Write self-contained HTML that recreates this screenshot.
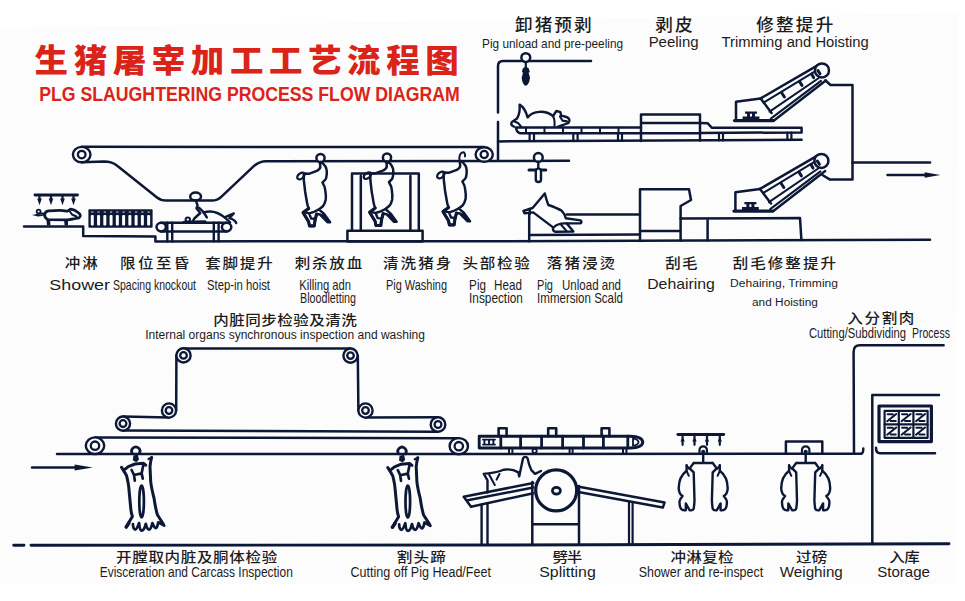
<!DOCTYPE html>
<html lang="zh"><head><meta charset="utf-8"><title>生猪屠宰加工工艺流程图</title>
<style>
html,body{margin:0;padding:0;background:#ffffff;}
svg{display:block;}
text{font-family:"Liberation Sans","Noto Sans CJK SC",sans-serif;}
text.c{font-family:"Liberation Sans","Noto Sans CJK SC",sans-serif;}
.s{fill:none;stroke:#0c1836;stroke-width:2.5;stroke-linecap:round;stroke-linejoin:round;}
.f{fill:#0c1836;stroke:none;}
.w{fill:#fcfcfc;stroke:#0c1836;stroke-width:2.5;stroke-linejoin:round;}
</style></head>
<body>
<svg width="965" height="601" viewBox="0 0 965 601">
<rect width="965" height="601" fill="#ffffff"/>
<polygon points="0,28 957,13 956,584 0,584" fill="#fcfcfc"/>
<g id="diagram">
<g id="top-line">
<path class="s" d="M81.7 146.8 L484.2 147.1"/>
<path class="s" d="M81.7 162.3 L104 161.6 C110 161.6 113.5 162.6 117.5 166 L157 197.6 C160 200 162 200.6 166 200.6 L212 200.6 C216.5 200.6 218.5 199.5 221.5 196.6 L253 166.8 C257 163 260 161.3 266 161.2 L569 160.8"/>
<ellipse class="w" cx="81.7" cy="154.6" rx="8.8" ry="7.7" style="stroke-width:2.4"/>
<circle class="s" cx="81.7" cy="154.6" r="3.8" style="stroke-width:2.3"/>
<ellipse class="w" cx="484.2" cy="154.5" rx="8.6" ry="7.3" style="stroke-width:2.4"/>
<circle class="s" cx="484.2" cy="154.5" r="3.6" style="stroke-width:2.3"/>
<path class="s" d="M35 195 L77.5 195" style="stroke-width:2.9"/>
<path class="s" d="M39.5 195 L39.5 200" style="stroke-width:2.2"/>
<path class="f" d="M37.2 198.6 L41.8 198.6 L39.5 205.3 Z"/>
<path class="s" d="M51 195 L51 200" style="stroke-width:2.2"/>
<path class="f" d="M48.7 198.6 L53.3 198.6 L51 205.3 Z"/>
<path class="s" d="M62.5 195 L62.5 200" style="stroke-width:2.2"/>
<path class="f" d="M60.2 198.6 L64.8 198.6 L62.5 205.3 Z"/>
<path class="s" d="M73.5 195 L73.5 200" style="stroke-width:2.2"/>
<path class="f" d="M71.2 198.6 L75.8 198.6 L73.5 205.3 Z"/>
<path class="s" d="M46.5 218.6 C43.6 216.5 44 211.6 48.5 210.8 L60 210.4 C64 210.3 65.5 211.3 67.5 211.2 L70.5 209.2 L74.5 210.2 L78.5 212.8 C80.6 214.2 81 216.6 79 217.8 L73 219 L68 219.8 L48 219.6 Z" style="stroke-width:2.8"/>
<path class="s" d="M69.5 211 L72 214.5 L76.5 216.5" style="stroke-width:2.0"/>
<path class="f" d="M46.3 219 L47 225.6 L50.5 225.6 L50 219.6 Z M64 219.6 L64.6 225.6 L68 225.6 L68 219.6 Z"/>
<path class="s" d="M45 214.2 L40.6 213.4" style="stroke-width:2.2"/>
<circle class="s" cx="38.6" cy="211.6" r="1.9" style="stroke-width:1.8"/>
<path class="f" d="M32 215 L38 213.8 L44.5 215.8 L38 216.4 Z"/>
<path class="s" d="M24 226.6 L83.2 226.6 L83.2 235.9 L155.4 236.6 L155.4 241.4 L500 241.2 L930 239.7"/>
<rect class="f" x="88.4" y="209.3" width="64.2" height="18.5" rx="1"/>
<rect x="90.80" y="214.9" width="3" height="10.5" rx="1" fill="#fcfcfc"/>
<rect x="91.20" y="211.5" width="2.2" height="1.1" fill="#c9ccd6"/>
<rect x="97.06" y="214.9" width="3" height="10.5" rx="1" fill="#fcfcfc"/>
<rect x="97.46" y="211.5" width="2.2" height="1.1" fill="#c9ccd6"/>
<rect x="103.32" y="214.9" width="3" height="10.5" rx="1" fill="#fcfcfc"/>
<rect x="103.72" y="211.5" width="2.2" height="1.1" fill="#c9ccd6"/>
<rect x="109.58" y="214.9" width="3" height="10.5" rx="1" fill="#fcfcfc"/>
<rect x="109.98" y="211.5" width="2.2" height="1.1" fill="#c9ccd6"/>
<rect x="115.84" y="214.9" width="3" height="10.5" rx="1" fill="#fcfcfc"/>
<rect x="116.24" y="211.5" width="2.2" height="1.1" fill="#c9ccd6"/>
<rect x="122.10" y="214.9" width="3" height="10.5" rx="1" fill="#fcfcfc"/>
<rect x="122.50" y="211.5" width="2.2" height="1.1" fill="#c9ccd6"/>
<rect x="128.36" y="214.9" width="3" height="10.5" rx="1" fill="#fcfcfc"/>
<rect x="128.76" y="211.5" width="2.2" height="1.1" fill="#c9ccd6"/>
<rect x="134.62" y="214.9" width="3" height="10.5" rx="1" fill="#fcfcfc"/>
<rect x="135.02" y="211.5" width="2.2" height="1.1" fill="#c9ccd6"/>
<rect x="140.88" y="214.9" width="3" height="10.5" rx="1" fill="#fcfcfc"/>
<rect x="141.28" y="211.5" width="2.2" height="1.1" fill="#c9ccd6"/>
<rect x="147.14" y="214.9" width="3" height="10.5" rx="1" fill="#fcfcfc"/>
<rect x="147.54" y="211.5" width="2.2" height="1.1" fill="#c9ccd6"/>
<path class="s" d="M161.2 222.8 L226.4 222.8 M161.2 231.4 L226.4 231.4"/>
<ellipse class="s" cx="161.2" cy="227.1" rx="4.7" ry="4.3"/>
<ellipse class="s" cx="226.6" cy="227.1" rx="4.7" ry="4.3"/>
<path class="s" d="M167.3 222.8 L167.3 241.3 M172.2 222.8 L172.2 241.3 M213.8 222.8 L213.8 241.3 M218.6 222.8 L218.6 241.3" style="stroke-width:2.4"/>
<ellipse class="w" cx="195.6" cy="196.4" rx="5.4" ry="3.9"/>
<path class="s" d="M195.8 200.4 L197.6 205.5 L196.4 208.2 L200.3 213 L194.3 218.5 L192.4 221.8 M199.2 207.8 L203.5 212 L206.8 217.4" style="stroke-width:2.4"/>
<path class="s" d="M203.5 212.6 C210 210.4 218 212 224.6 217.4 L233.8 213.4 L229.4 218.2 C233.5 219.5 235.5 221 236.2 223" style="stroke-width:2.4"/>
<path class="s" d="M224.6 217.4 L230.2 222.4" style="stroke-width:2.2"/>
<circle class="s" cx="187.8" cy="219.6" r="2.2" style="stroke-width:2"/>
<path class="s" d="M184 222.4 L205 221.8" style="stroke-width:3.2"/>
</g>
<g transform="translate(320.5 158)">
<circle class="w" cx="0" cy="0" r="4.1"/>
<path class="s" d="M0.6 4 C4 6.4 6.2 9.5 6.3 13.4 C6.4 16.5 6.2 18.5 5.5 20.5 C4.4 22.6 2.6 23.6 2 24.6 C3.6 27 4.6 29.6 4.8 32.4 C5.3 35.6 5.6 39 5.2 41.8 C4.6 44.6 3.8 46.4 2.4 48.2 L-1.6 51.4 L3.6 56 L9.6 64.2 L7 64.2 L-0.4 56.6 L-3.9 56 L-5.5 62.4 L-6.2 67.9 L-11 67.9 L-11.9 63.6 L-17.4 54.6 L-11.8 50.4 C-13 47.5 -13.3 46 -13.4 45 L-15.3 34 L-16.6 22.9 L-16.8 15.6 L-11.8 15.8 L-3.6 12.8 C-1.4 11.6 -0.2 10.2 -0.2 8.7 L-0.6 4"/>
<ellipse class="s" cx="-19.6" cy="18" rx="4.2" ry="2.6" transform="rotate(-38 -19.6 18)" style="stroke-width:2.3"/>
<path class="s" d="M-16.4 54.2 L-11.4 55.4 L-6.4 53.8 L-2 51.6 M-11.4 55.4 L-9.4 60.5 L-5.4 60.8" style="stroke-width:2.4"/>
<path class="f" d="M0 56.4 L7 64.2 L9.6 64.2 L3.6 56 Z"/>
<path class="s" d="M-17.4 54.6 L-11.9 63.6 L-11 67.9 L-6.2 67.9 L-5.5 62.4 L-3.9 56 M-11.8 50.4 L-17.4 54.6" style="stroke-width:3.1"/>
</g>
<g transform="translate(387 157.6)">
<circle class="w" cx="0" cy="0" r="4.1"/>
<path class="s" d="M0.6 4 C4 6.4 6.2 9.5 6.3 13.4 C6.4 16.5 6.2 18.5 5.5 20.5 C4.4 22.6 2.6 23.6 2 24.6 C3.6 27 4.6 29.6 4.8 32.4 C5.3 35.6 5.6 39 5.2 41.8 C4.6 44.6 3.8 46.4 2.4 48.2 L-1.6 51.4 L3.6 56 L9.6 64.2 L7 64.2 L-0.4 56.6 L-3.9 56 L-5.5 62.4 L-6.2 67.9 L-11 67.9 L-11.9 63.6 L-17.4 54.6 L-11.8 50.4 C-13 47.5 -13.3 46 -13.4 45 L-15.3 34 L-16.6 22.9 L-16.8 15.6 L-11.8 15.8 L-3.6 12.8 C-1.4 11.6 -0.2 10.2 -0.2 8.7 L-0.6 4"/>
<ellipse class="s" cx="-19.6" cy="18" rx="4.2" ry="2.6" transform="rotate(-38 -19.6 18)" style="stroke-width:2.3"/>
<path class="s" d="M-16.4 54.2 L-11.4 55.4 L-6.4 53.8 L-2 51.6 M-11.4 55.4 L-9.4 60.5 L-5.4 60.8" style="stroke-width:2.4"/>
<path class="f" d="M0 56.4 L7 64.2 L9.6 64.2 L3.6 56 Z"/>
<path class="s" d="M-17.4 54.6 L-11.9 63.6 L-11 67.9 L-6.2 67.9 L-5.5 62.4 L-3.9 56 M-11.8 50.4 L-17.4 54.6" style="stroke-width:3.1"/>
</g>
<g transform="translate(460.4 157)">
<path class="s" d="M-0.8 4 C-1.4 0 -0.4 -3.6 2 -4.6 C4 -5 5 -3.4 4.6 -0.6" style="stroke-width:2"/>
<path class="s" d="M0.6 4 C4 6.4 6.2 9.5 6.3 13.4 C6.4 16.5 6.2 18.5 5.5 20.5 C4.4 22.6 2.6 23.6 2 24.6 C3.6 27 4.6 29.6 4.8 32.4 C5.3 35.6 5.6 39 5.2 41.8 C4.6 44.6 3.8 46.4 2.4 48.2 L-1.6 51.4 L3.6 56 L9.6 64.2 L7 64.2 L-0.4 56.6 L-3.9 56 L-5.5 62.4 L-6.2 67.9 L-11 67.9 L-11.9 63.6 L-17.4 54.6 L-11.8 50.4 C-13 47.5 -13.3 46 -13.4 45 L-15.3 34 L-16.6 22.9 L-16.8 15.6 L-11.8 15.8 L-3.6 12.8 C-1.4 11.6 -0.2 10.2 -0.2 8.7 L-0.6 4"/>
<ellipse class="s" cx="-19.6" cy="18" rx="4.2" ry="2.6" transform="rotate(-38 -19.6 18)" style="stroke-width:2.3"/>
<path class="s" d="M-16.4 54.2 L-11.4 55.4 L-6.4 53.8 L-2 51.6 M-11.4 55.4 L-9.4 60.5 L-5.4 60.8" style="stroke-width:2.4"/>
<path class="f" d="M0 56.4 L7 64.2 L9.6 64.2 L3.6 56 Z"/>
<path class="s" d="M-17.4 54.6 L-11.9 63.6 L-11 67.9 L-6.2 67.9 L-5.5 62.4 L-3.9 56 M-11.8 50.4 L-17.4 54.6" style="stroke-width:3.1"/>
</g>
<path class="s" d="M352 230.6 L352 173.6 L418.8 173.6 L418.8 230.6 M360.8 230.6 L360.8 176 M410.4 230.6 L410.4 176"/>
<path class="s" d="M347.4 230.8 L422.6 230.8 L422.6 241.4 L347.4 241.4 Z"/>
<path class="s" d="M498 160.8 L498 122 M498 112.6 L498 66 C498 62.4 499.6 60.9 503 60.9 L591 60.9"/>
<path class="s" d="M498 141.4 L801.6 139.8"/>
<circle class="w" cx="525.8" cy="57.6" r="4.4"/>
<path class="s" d="M525.8 62 L525.8 68" style="stroke-width:2.2"/>
<path class="f" d="M522.8 68.6 C524.4 66.4 527.2 66.4 528.8 68.6 L529.8 72 L528.6 72.8 L530 77.5 C529.6 82.5 527.8 85.4 525.8 85.8 C523.8 85.4 522 82.5 521.7 77.5 L523 72.8 L521.9 72 Z"/>
<circle class="w" cx="538.3" cy="157.4" r="4.4"/>
<path class="s" d="M538.3 161.8 L538.3 169" style="stroke-width:2.4"/>
<path class="s" d="M529 170 L545.8 170" style="stroke-width:3.0"/>
<rect class="w" x="535.8" y="168.6" width="5.2" height="13.4" rx="2.6" style="stroke-width:2.4"/>
<path class="s" d="M514 126.6 C510.6 125.6 510.4 122.4 513.4 121 L517 118.6 C519.4 114.5 520 109.5 519.6 104.6 C523 106.6 526 111.4 527.6 117.4 C533 110.6 545 109.8 553 116 L556.4 111 L560.4 112.2 L561.2 115.6 L566.4 117 C569.4 118 570.4 120.6 568.6 122.8 L563 125 L557.6 126.8" style="stroke-width:2.4"/>
<path class="s" d="M553 116 C554.6 119 554.8 123 554.4 126.6 M560 116.4 L562.4 120.6 L567 121.4 M513.4 121 L518 123 L521 126.4" style="stroke-width:2.1"/>
<path class="s" d="M516 127.6 L641 127.6 M520 133.2 L641 133.2 M516 127.6 C516.4 131 517.6 132.6 520 133.2"/>
<path class="s" d="M526 127.6 L526 133.2" style="stroke-width:2.0"/>
<path class="s" d="M544.5 127.6 L544.5 133.2" style="stroke-width:2.0"/>
<path class="s" d="M563 127.6 L563 133.2" style="stroke-width:2.0"/>
<path class="s" d="M581.5 127.6 L581.5 133.2" style="stroke-width:2.0"/>
<path class="s" d="M600 127.6 L600 133.2" style="stroke-width:2.0"/>
<path class="s" d="M618.5 127.6 L618.5 133.2" style="stroke-width:2.0"/>
<path class="s" d="M529.6 133.2 L529.6 141 M534 133.2 L534 141 M573.3 133.2 L573.3 141 M577.6 133.2 L577.6 141 M618 133.2 L618 140.8 M622 133.2 L622 140.8" style="stroke-width:2.2"/>
<path class="s" d="M641 141 L641 114.6 L700 114.6 L700 140.4 M641 123 L700 123 M641 133.2 L700 133"/>
<path class="s" d="M700 123 L707.5 123.2 L712 127.8 L801.6 127.8 L801.6 132.4 M700 133 L801.6 132.4"/>
<path class="s" d="M719 133 L719 140.4 M723 133 L723 140.4 M787.4 132.6 L787.4 139.8 M791.4 132.6 L791.4 139.8" style="stroke-width:2.2"/>
<g transform="translate(0 0)">
<path class="s" d="M760.6 98.4 L736 101.8 L736 119.6"/>
<path class="s" d="M734.6 120.6 L773.4 120.6" style="stroke-width:3.4"/>
<path class="s" d="M760.6 98.4 L771.6 113"/>
<path class="s" d="M760.6 98.4 L818 65.2" style="stroke-width:2.5"/>
<path class="s" d="M763.6 102.6 L815.4 71.2" style="stroke-width:2.1"/>
<path class="s" d="M769.6 111.6 L818.8 78" style="stroke-width:2.1"/>
<path class="s" d="M770.8 118.6 L821 80.8" style="stroke-width:2.1"/>
<path class="s" d="M774 120.4 L825.8 80.6" style="stroke-width:2.5"/>
<circle class="w" cx="822" cy="70.4" r="7"/>
<path class="s" d="M781.8 93 L784.4 97 M799.6 81.6 L802 85.4 M811.6 74 L813.6 77.6 M818 70.6 L820 73.8" style="stroke-width:3"/>
<path class="f" d="M745 111.6 L757 111.6 L757 113.8 L745 113.8 Z M747 113.8 L750 113.8 L750 117 L747 117 Z M752 113.8 L755 113.8 L755 117 L752 117 Z M742.6 116.6 L759.4 116.6 L759.4 119.8 L742.6 119.8 Z"/>
</g>
<g transform="translate(-0.6 90.5)">
<path class="s" d="M760.6 98.4 L736 101.8 L736 119.6"/>
<path class="s" d="M734.6 120.6 L773.4 120.6" style="stroke-width:3.4"/>
<path class="s" d="M760.6 98.4 L771.6 113"/>
<path class="s" d="M760.6 98.4 L818 65.2" style="stroke-width:2.5"/>
<path class="s" d="M763.6 102.6 L815.4 71.2" style="stroke-width:2.1"/>
<path class="s" d="M769.6 111.6 L818.8 78" style="stroke-width:2.1"/>
<path class="s" d="M770.8 118.6 L821 80.8" style="stroke-width:2.1"/>
<path class="s" d="M774 120.4 L825.8 80.6" style="stroke-width:2.5"/>
<circle class="w" cx="822" cy="70.4" r="7"/>
<path class="s" d="M781.8 93 L784.4 97 M799.6 81.6 L802 85.4 M811.6 74 L813.6 77.6 M818 70.6 L820 73.8" style="stroke-width:3"/>
<path class="f" d="M745 111.6 L757 111.6 L757 113.8 L745 113.8 Z M747 113.8 L750 113.8 L750 117 L747 117 Z M752 113.8 L755 113.8 L755 117 L752 117 Z M742.6 116.6 L759.4 116.6 L759.4 119.8 L742.6 119.8 Z"/>
</g>
<path class="s" d="M825.3 80.3 L830.5 85 L852.5 85 L852.5 179.6 L830 179.6 L822.4 175"/>
<path class="s" d="M852.5 162.6 L930 162.6"/>
<path class="s" d="M887.5 175 L927 175"/>
<path class="f" d="M924.6 172.2 L940.4 175 L924.6 177.8 Z"/>
<path class="s" d="M529.2 213 L529.2 241.2 M566.8 214.4 L640 214.4 M529.2 235 L640 234.6"/>
<path class="s" d="M544.8 193.4 L532.6 208 L523.4 211 L524.6 213.4 L533.2 212.4 L553.4 227.6 M544.8 193.4 C546 198 547 202 548.4 205 C553 206.6 558 208.4 561.8 210.8 C564 213 565.2 215.6 565.8 218.2 L580.6 220.4 C582 221.4 581.6 223 580 223.4 L566.8 223.4 L573.4 231.6 L555 231.8 C552.6 230.6 552.6 228.6 553.4 227.6" style="stroke-width:2.4"/>
<path class="s" d="M553.4 227.6 C556 224.6 561 223 566.8 223.4 M561 224.6 L566.5 231" style="stroke-width:2.1"/>
<path class="s" d="M529.8 209 L529.8 214" style="stroke-width:2.4"/>
<path class="s" d="M640 241 L640 189.2 L689 189.2 L691 200 L680.6 206 L680.6 240.8 M640 231 L680.6 231"/>
<path class="s" d="M680.6 218.6 L800 218 L801.4 239.9 M707.6 218.6 L707.6 240.6"/>
<path class="s" d="M183.5 348.4 L350.5 348.6 M176.4 355 L176.2 410.5 M357.8 355.5 L358.4 410.5 M169 417.6 L123 416.6 M123 430.6 L438 431.8 M365.5 417.6 L438 417.3"/>
<ellipse class="w" cx="183.5" cy="355.4" rx="7.1" ry="7.1" style="stroke-width:2.4"/>
<circle class="s" cx="183.5" cy="355.4" r="3.3" style="stroke-width:2.3"/>
<ellipse class="w" cx="350.5" cy="355.6" rx="7.1" ry="7.1" style="stroke-width:2.4"/>
<circle class="s" cx="350.5" cy="355.6" r="3.3" style="stroke-width:2.3"/>
<ellipse class="w" cx="169" cy="410.5" rx="7.1" ry="7.1" style="stroke-width:2.4"/>
<circle class="s" cx="169" cy="410.5" r="3.3" style="stroke-width:2.3"/>
<ellipse class="w" cx="365.5" cy="410.5" rx="7.1" ry="7.1" style="stroke-width:2.4"/>
<circle class="s" cx="365.5" cy="410.5" r="3.3" style="stroke-width:2.3"/>
<ellipse class="w" cx="123" cy="423.6" rx="7.1" ry="7.1" style="stroke-width:2.4"/>
<circle class="s" cx="123" cy="423.6" r="3.4" style="stroke-width:2.3"/>
<ellipse class="w" cx="438" cy="424.5" rx="7.3" ry="7.3" style="stroke-width:2.4"/>
<circle class="s" cx="438" cy="424.5" r="3.4" style="stroke-width:2.3"/>
<path class="s" d="M95 437.4 L458.8 438.2"/>
<path class="s" d="M57 454 L861 453.8"/>
<path class="s" d="M861 453.8 C863 453.6 863.3 452 863.3 448.6"/>
<ellipse class="w" cx="95" cy="445.7" rx="9.2" ry="8.3" style="stroke-width:2.4"/>
<circle class="s" cx="95" cy="445.7" r="4.2" style="stroke-width:2.3"/>
<ellipse class="w" cx="458.8" cy="446.2" rx="9.2" ry="8.1" style="stroke-width:2.4"/>
<circle class="s" cx="458.8" cy="446.2" r="4.2" style="stroke-width:2.3"/>
<path class="s" d="M32 467.5 L78 467.5"/>
<path class="f" d="M74.6 464.5 L92.8 467.5 L74.6 470.5 Z"/>
<g transform="translate(135.8 451.6)">
<path class="s" d="M-3.45 2 A4.2 4.2 0 1 1 3.45 2" style="stroke-width:2.7"/>
<path class="f" d="M-2.4 4 L2 3 L3.2 8 L0.6 10.6 L-3 8.6 Z"/>
<path class="s" d="M-14.2 15.8 L-11 21 L-9.2 24.2 C-8 29 -7 34 -6.8 38.4 L-5.2 54.9 C-5 59 -4.4 62 -3.4 64.9 L-7.6 72" style="stroke-width:3.0"/>
<path class="s" d="M-10.6 17.6 L-7.5 15 L-0.8 12.4 L7.5 11.7 L10 13.6" style="stroke-width:3.0"/>
<path class="s" d="M15.8 5.9 C15 9 14.4 12 14.2 15 L14.9 30 C15.6 36 16.8 41 18.2 46.4 C19 52 20 58 21.6 63.2 L27.6 72.6" style="stroke-width:3.0"/>
<path class="s" d="M-4.2 18.4 L-1.8 23.4 L5.8 21.8 L7.5 13.4 M-1.8 23.4 L-1 29 M5.8 21.8 L7 27" style="stroke-width:2.7"/>
<path class="s" d="M12.8 7.4 L15.8 5.9" style="stroke-width:2.4"/>
<path class="s" d="M-9.6 75.4 L-7 71.6" style="stroke-width:3.6"/>
<path class="s" d="M-2.8 72.6 C-3 75.6 -1.8 78 -0.6 78 C1 78 2.2 74.4 3.3 71.5 C3.6 75 4.4 79 6 79 C8 79 9.2 75.4 10 72.3 C10.6 75 11.8 78 13.3 78 C14.6 78 15.8 74.6 16.6 71.5 C17.4 73.6 18.8 76.4 20 76.5 C21.4 76.4 22 73 22.5 70.7 L28.4 74" style="stroke-width:2.8"/>
<ellipse class="s" cx="5.8" cy="49.9" rx="2.3" ry="16" style="stroke-width:2.7"/>
</g>
<g transform="translate(402 451.8)">
<path class="s" d="M-3.45 2 A4.2 4.2 0 1 1 3.45 2" style="stroke-width:2.7"/>
<path class="f" d="M-2.4 4 L2 3 L3.2 8 L0.6 10.6 L-3 8.6 Z"/>
<path class="s" d="M-14.2 15.8 L-11 21 L-9.2 24.2 C-8 29 -7 34 -6.8 38.4 L-5.2 54.9 C-5 59 -4.4 62 -3.4 64.9 L-7.6 72" style="stroke-width:3.0"/>
<path class="s" d="M-10.6 17.6 L-7.5 15 L-0.8 12.4 L7.5 11.7 L10 13.6" style="stroke-width:3.0"/>
<path class="s" d="M15.8 5.9 C15 9 14.4 12 14.2 15 L14.9 30 C15.6 36 16.8 41 18.2 46.4 C19 52 20 58 21.6 63.2 L27.6 72.6" style="stroke-width:3.0"/>
<path class="s" d="M-4.2 18.4 L-1.8 23.4 L5.8 21.8 L7.5 13.4 M-1.8 23.4 L-1 29 M5.8 21.8 L7 27" style="stroke-width:2.7"/>
<path class="s" d="M12.8 7.4 L15.8 5.9" style="stroke-width:2.4"/>
<path class="s" d="M-9.6 75.4 L-7 71.6" style="stroke-width:3.6"/>
<path class="s" d="M-2.8 72.6 C-3 75.6 -1.8 78 -0.6 78 C1 78 2.2 74.4 3.3 71.5 C3.6 75 4.4 79 6 79 C8 79 9.2 75.4 10 72.3 C10.6 75 11.8 78 13.3 78 C14.6 78 15.8 74.6 16.6 71.5 C17.4 73.6 18.8 76.4 20 76.5 C21.4 76.4 22 73 22.5 70.7 L28.4 74" style="stroke-width:2.8"/>
<ellipse class="s" cx="5.8" cy="49.9" rx="2.3" ry="16" style="stroke-width:2.7"/>
</g>
<path class="s" d="M479.2 436.2 L630 436.2 C638 436.4 642.6 438.6 642.8 442.1 C642.6 445.6 638 447.8 630 448 L479.2 448 Z" style="stroke-width:2.9"/>
<path class="s" d="M500.8 436.2 L500.8 448" style="stroke-width:2.8"/>
<path class="s" d="M520.6 436.2 L520.6 448" style="stroke-width:2.8"/>
<path class="s" d="M541.6 436.2 L541.6 448" style="stroke-width:2.8"/>
<path class="s" d="M562.6 436.2 L562.6 448" style="stroke-width:2.8"/>
<path class="s" d="M583.5 436.2 L583.5 448" style="stroke-width:2.8"/>
<path class="s" d="M603.4 436.2 L603.4 448" style="stroke-width:2.8"/>
<path class="s" d="M627.8 436.2 L627.8 448" style="stroke-width:2.8"/>
<path class="s" d="M633 438.4 L633 445.8 C636.4 445.2 638.4 443.6 638.6 442.1 C638.4 440.6 636.4 439 633 438.4" style="stroke-width:1.8"/>
<path class="s" d="M483 439.6 L495 439.6 M483 444.6 L495 444.6 M489 439.6 L489 444.6 M484.4 439.6 L484.4 444.6 M493.4 439.6 L493.4 444.6" style="stroke-width:1.9"/>
<path class="s" d="M498.6 436.2 L498.6 428.2 L506.6 428.2 L506.6 436.2" style="stroke-width:2.6"/>
<path class="s" d="M548.2 436.2 L548.2 428.2 L556.2 428.2 L556.2 436.2" style="stroke-width:2.6"/>
<path class="s" d="M601.6 436.2 L601.6 428.2 L609.4 428.2 L609.4 436.2" style="stroke-width:2.6"/>
<path class="s" d="M509 448 L509 454 M512.4 448 L512.4 454 M569.6 448 L569.6 454 M572.6 448 L572.6 454 M623 448 L623 454 M626.4 448 L626.4 454" style="stroke-width:2"/>
<circle class="s" cx="534.6" cy="451" r="2.1" style="stroke-width:1.9"/>
<path class="s" d="M532.3 482 L532.3 544.4 M579 486 L579 544.2 M532.3 524.2 L579 524.2"/>
<path class="s" d="M463.7 496.8 L533.3 483 M466.4 500.4 L533.3 487.6 M463.7 496.8 L471 506.8 L533.3 493.2"/>
<path class="s" d="M481.6 504.6 L481.6 544.6 M487.5 503.4 L487.5 544.6" style="stroke-width:2.4"/>
<path class="s" d="M577.6 486.6 L664.6 502.4 L662.8 507.6 L578.4 492"/>
<path class="s" d="M629 501.6 L629 544 M632.6 502.2 L632.6 544" style="stroke-width:2.2"/>
<path class="s" d="M487.5 492.6 L487.5 480.3 L483.8 473.9 C492 472.8 498 472.6 503.6 469.8 C509 468.8 514 469.8 518.4 472.4 L519.2 476.4 C520.6 470 522 463 523 458.4 C524 456.4 526.6 456.4 527.6 458.4 C528.4 462.6 529.8 467 531.4 470.2 L535 473.9 L541 471" style="stroke-width:2.4"/>
<path class="s" d="M489.2 474.8 L494.8 485 M499.4 474 L496.6 479.6" style="stroke-width:2.1"/>
<circle class="w" cx="556.2" cy="490.4" r="20.5" style="stroke-width:3.2"/>
<ellipse class="s" cx="556.4" cy="490.8" rx="4" ry="3.4" style="stroke-width:2.7"/>
<g transform="translate(703.2 453.8)">
<path class="s" d="M-3.7 0 L-3.7 -3.8 A3.7 3.7 0 0 1 3.7 -3.8 L3.7 0" style="stroke-width:2.2"/>
<circle class="f" cx="0" cy="-2" r="2"/>
<path class="s" d="M0 0.4 L0 9.2 M-9.5 9.2 L9.5 9.2 M-9.5 9.2 L-13.5 14.6 M9.5 9.2 L13.5 14.6" style="stroke-width:2.4"/>
<g transform="scale(-1 1)">
<path class="s" d="M16.6 11.5 L16.6 17 C21 20.4 24.4 24.8 24.5 34.4 C24.4 38.4 22.6 41 20.6 42.3 C22.4 44.6 24 47 23.7 48.6 C23.6 52 22.6 55 21.4 55.7 C19.6 57 18 56.6 17.4 56.5 L17.4 49.6 C16 52 14.6 55 13.5 56.5 C11.6 56.8 10 56 9.5 54.9 C9 52 8.8 49 8.7 47 L9.5 18.6 L13.5 14.6" style="stroke-width:2.4"/>
<path class="s" d="M16.6 17 L14.4 22 M16.6 11.5 L14 15" style="stroke-width:2.0"/>
</g>
<g transform="scale(1 1)">
<path class="s" d="M16.6 11.5 L16.6 17 C21 20.4 24.4 24.8 24.5 34.4 C24.4 38.4 22.6 41 20.6 42.3 C22.4 44.6 24 47 23.7 48.6 C23.6 52 22.6 55 21.4 55.7 C19.6 57 18 56.6 17.4 56.5 L17.4 49.6 C16 52 14.6 55 13.5 56.5 C11.6 56.8 10 56 9.5 54.9 C9 52 8.8 49 8.7 47 L9.5 18.6 L13.5 14.6" style="stroke-width:2.4"/>
<path class="s" d="M16.6 17 L14.4 22 M16.6 11.5 L14 15" style="stroke-width:2.0"/>
</g>
</g>
<g transform="translate(805.7 453.8)">
<path class="s" d="M-19.8 0 L-19.8 -12.2 L16.6 -12.2 L16.6 0"/>
<path class="s" d="M-3.7 0 L-3.7 -3.8 A3.7 3.7 0 0 1 3.7 -3.8 L3.7 0" style="stroke-width:2.2"/>
<circle class="f" cx="0" cy="-2" r="2"/>
<path class="s" d="M0 0.4 L0 9.2 M-9.5 9.2 L9.5 9.2 M-9.5 9.2 L-13.5 14.6 M9.5 9.2 L13.5 14.6" style="stroke-width:2.4"/>
<g transform="scale(-1 1)">
<path class="s" d="M16.6 11.5 L16.6 17 C21 20.4 24.4 24.8 24.5 34.4 C24.4 38.4 22.6 41 20.6 42.3 C22.4 44.6 24 47 23.7 48.6 C23.6 52 22.6 55 21.4 55.7 C19.6 57 18 56.6 17.4 56.5 L17.4 49.6 C16 52 14.6 55 13.5 56.5 C11.6 56.8 10 56 9.5 54.9 C9 52 8.8 49 8.7 47 L9.5 18.6 L13.5 14.6" style="stroke-width:2.4"/>
<path class="s" d="M16.6 17 L14.4 22 M16.6 11.5 L14 15" style="stroke-width:2.0"/>
</g>
<g transform="scale(1 1)">
<path class="s" d="M16.6 11.5 L16.6 17 C21 20.4 24.4 24.8 24.5 34.4 C24.4 38.4 22.6 41 20.6 42.3 C22.4 44.6 24 47 23.7 48.6 C23.6 52 22.6 55 21.4 55.7 C19.6 57 18 56.6 17.4 56.5 L17.4 49.6 C16 52 14.6 55 13.5 56.5 C11.6 56.8 10 56 9.5 54.9 C9 52 8.8 49 8.7 47 L9.5 18.6 L13.5 14.6" style="stroke-width:2.4"/>
<path class="s" d="M16.6 17 L14.4 22 M16.6 11.5 L14 15" style="stroke-width:2.0"/>
</g>
</g>
<path class="s" d="M677.9 434.5 L723.7 434.5" style="stroke-width:2.9"/>
<path class="s" d="M682.6 434.5 L682.6 444.8" style="stroke-width:2.2"/>
<path class="f" d="M680.4 441.6 L682.6 437 L684.8000000000001 441.6 Z"/>
<path class="s" d="M694.5 434.5 L694.5 444.8" style="stroke-width:2.2"/>
<path class="f" d="M692.3 441.6 L694.5 437 L696.7 441.6 Z"/>
<path class="s" d="M707 434.5 L707 444.8" style="stroke-width:2.2"/>
<path class="f" d="M704.8 441.6 L707 437 L709.2 441.6 Z"/>
<path class="s" d="M719.8 434.5 L719.8 444.8" style="stroke-width:2.2"/>
<path class="f" d="M717.5999999999999 441.6 L719.8 437 L722.0 441.6 Z"/>
<path class="s" d="M854 453.8 L853.6 352 C853.6 347 856 345.3 860 345.3 L943.6 345.3"/>
<path class="s" d="M872.3 544 L872.3 395 L939 395"/>
<path class="s" d="M876 447.8 C876 451.6 877 453.2 880 453.2 L935 453.2"/>
<rect class="s" x="879" y="406" width="52.4" height="35.6" style="stroke-width:3.2"/>
<rect class="s" x="884.6" y="410.8" width="43" height="27" style="stroke-width:2.2"/>
<path class="s" d="M884.6 424.4 L927.6 424.4 M898.8 410.8 L898.8 437.8 M913.4 410.8 L913.4 437.8" style="stroke-width:2.2"/>
<path class="s" d="M887.2 421.2 L896.2 414.0 M887.7 414.2 L892.7 414.2 M890.7 421.0 L895.7 421.0" style="stroke-width:2.1"/>
<path class="s" d="M887.2 434.7 L896.2 427.5 M887.7 427.7 L892.7 427.7 M890.7 434.5 L895.7 434.5" style="stroke-width:2.1"/>
<path class="s" d="M901.6 421.2 L910.6 414.0 M902.1 414.2 L907.1 414.2 M905.1 421.0 L910.1 421.0" style="stroke-width:2.1"/>
<path class="s" d="M901.6 434.7 L910.6 427.5 M902.1 427.7 L907.1 427.7 M905.1 434.5 L910.1 434.5" style="stroke-width:2.1"/>
<path class="s" d="M916.0 421.2 L925.0 414.0 M916.5 414.2 L921.5 414.2 M919.5 421.0 L924.5 421.0" style="stroke-width:2.1"/>
<path class="s" d="M916.0 434.7 L925.0 427.5 M916.5 427.7 L921.5 427.7 M919.5 434.5 L924.5 434.5" style="stroke-width:2.1"/>
<path class="s" d="M13.7 545.2 L24 545.2 M31 545.2 L500 545 L949 543.8" style="stroke-width:2.9"/>
</g>
<g id="labels">
<text id="L0" x="39.2" y="101.2" font-size="19.5" font-weight="bold" fill="#db2419" textLength="420.6" lengthAdjust="spacingAndGlyphs">PLG SLAUGHTERING PROCESS FLOW DIAGRAM</text>
<text id="L1" x="482.1" y="47.5" font-size="13.2" font-weight="normal" fill="#1c1c1c" textLength="140.92" lengthAdjust="spacingAndGlyphs">Pig unload and pre-peeling</text>
<text id="L2" x="648.64" y="46.9" font-size="15.1" font-weight="normal" fill="#1c1c1c" textLength="49.92" lengthAdjust="spacingAndGlyphs">Peeling</text>
<text id="L3" x="721.56" y="46.9" font-size="15.1" font-weight="normal" fill="#1c1c1c" textLength="147.24" lengthAdjust="spacingAndGlyphs">Trimming and Hoisting</text>
<text id="L4" x="49.3" y="289.8" font-size="14.5" font-weight="normal" fill="#1c1c1c" textLength="60.7" lengthAdjust="spacingAndGlyphs">Shower</text>
<text id="L5" x="113" y="289.8" font-size="14.4" font-weight="normal" fill="#1c1c1c" textLength="83" lengthAdjust="spacingAndGlyphs">Spacing knockout</text>
<text id="L6" x="207" y="289.8" font-size="14.4" font-weight="normal" fill="#1c1c1c" textLength="63" lengthAdjust="spacingAndGlyphs">Step-in hoist</text>
<text id="L7" x="299.2" y="289.8" font-size="14.4" font-weight="normal" fill="#1c1c1c" textLength="51.8" lengthAdjust="spacingAndGlyphs">Killing adn</text>
<text id="L8" x="300" y="303.3" font-size="14.4" font-weight="normal" fill="#1c1c1c" textLength="56" lengthAdjust="spacingAndGlyphs">Bloodletting</text>
<text id="L9" x="386" y="289.8" font-size="14.4" font-weight="normal" fill="#1c1c1c" textLength="61" lengthAdjust="spacingAndGlyphs">Pig Washing</text>
<text id="L10" x="469.1" y="289.8" font-size="14.4" font-weight="normal" fill="#1c1c1c" textLength="16.9" lengthAdjust="spacingAndGlyphs">Pig</text>
<text id="L11" x="494.1" y="289.8" font-size="14.4" font-weight="normal" fill="#1c1c1c" textLength="27.9" lengthAdjust="spacingAndGlyphs">Head</text>
<text id="L12" x="469.1" y="303.3" font-size="14.4" font-weight="normal" fill="#1c1c1c" textLength="53.8" lengthAdjust="spacingAndGlyphs">Inspection</text>
<text id="L13" x="537.1" y="289.8" font-size="14.4" font-weight="normal" fill="#1c1c1c" textLength="15.9" lengthAdjust="spacingAndGlyphs">Pig</text>
<text id="L14" x="562" y="289.8" font-size="14.4" font-weight="normal" fill="#1c1c1c" textLength="59" lengthAdjust="spacingAndGlyphs">Unload and</text>
<text id="L15" x="537.1" y="303.3" font-size="14.4" font-weight="normal" fill="#1c1c1c" textLength="85.9" lengthAdjust="spacingAndGlyphs">Immersion Scald</text>
<text id="L16" x="647.2" y="289.3" font-size="15" font-weight="normal" fill="#1c1c1c" textLength="67.7" lengthAdjust="spacingAndGlyphs">Dehairing</text>
<text id="L17" x="730.1" y="287.3" font-size="11.7" font-weight="normal" fill="#1c1c1c" textLength="107.9" lengthAdjust="spacingAndGlyphs">Dehairing, Trimming</text>
<text id="L18" x="752" y="305.8" font-size="11.7" font-weight="normal" fill="#1c1c1c" textLength="65.9" lengthAdjust="spacingAndGlyphs">and Hoisting</text>
<text id="L19" x="145.2" y="339" font-size="13.7" font-weight="normal" fill="#1c1c1c" textLength="279.8" lengthAdjust="spacingAndGlyphs">Internal organs synchronous inspection and washing</text>
<text id="L20" x="809" y="337.8" font-size="14" font-weight="normal" fill="#1c1c1c" textLength="96.9" lengthAdjust="spacingAndGlyphs">Cutting/Subdividing</text>
<text id="L21" x="912" y="337.8" font-size="14" font-weight="normal" fill="#1c1c1c" textLength="37.9" lengthAdjust="spacingAndGlyphs">Process</text>
<text id="L22" x="99.76" y="577" font-size="13.8" font-weight="normal" fill="#1c1c1c" textLength="193.02" lengthAdjust="spacingAndGlyphs">Evisceration and Carcass Inspection</text>
<text id="L23" x="350.56" y="577" font-size="13.8" font-weight="normal" fill="#1c1c1c" textLength="140.32" lengthAdjust="spacingAndGlyphs">Cutting off Pig Head/Feet</text>
<text id="L24" x="539.2" y="577" font-size="14.2" font-weight="normal" fill="#1c1c1c" textLength="56.6" lengthAdjust="spacingAndGlyphs">Splitting</text>
<text id="L25" x="638.76" y="577" font-size="13.8" font-weight="normal" fill="#1c1c1c" textLength="124.34" lengthAdjust="spacingAndGlyphs">Shower and re-inspect</text>
<text id="L26" x="779.78" y="577" font-size="14.2" font-weight="normal" fill="#1c1c1c" textLength="63.02" lengthAdjust="spacingAndGlyphs">Weighing</text>
<text id="L27" x="877.2" y="577" font-size="14.2" font-weight="normal" fill="#1c1c1c" textLength="52.8" lengthAdjust="spacingAndGlyphs">Storage</text>
<text id="C0" class="c" x="34.63" y="77.49" font-size="33.5" font-weight="900" fill="#db2419" letter-spacing="5.58" transform="scale(1 0.935)">生猪屠宰加工工艺流程图</text>
<text id="C1" class="c" x="481.29" y="31.29" font-size="16.5" font-weight="500" fill="#1c1c1c" letter-spacing="1.91" transform="scale(1.07 1)">卸猪预剥</text>
<text id="C2" class="c" x="612.49" y="31.29" font-size="16.5" font-weight="500" fill="#1c1c1c" letter-spacing="1.91" transform="scale(1.07 1)">剥皮</text>
<text id="C3" class="c" x="706.79" y="31.29" font-size="16.5" font-weight="500" fill="#1c1c1c" letter-spacing="2.02" transform="scale(1.07 1)">修整提升</text>
<text id="C4" class="c" x="58.28" y="267.62" font-size="14" font-weight="500" fill="#1c1c1c" letter-spacing="1.91" transform="scale(1.11 1)">冲淋</text>
<text id="C5" class="c" x="108.19" y="267.62" font-size="14" font-weight="500" fill="#1c1c1c" letter-spacing="2.15" transform="scale(1.11 1)">限位至昏</text>
<text id="C6" class="c" x="184.95" y="267.62" font-size="14" font-weight="500" fill="#1c1c1c" letter-spacing="1.58" transform="scale(1.11 1)">套脚提升</text>
<text id="C7" class="c" x="265.52" y="267.62" font-size="14" font-weight="500" fill="#1c1c1c" letter-spacing="1.61" transform="scale(1.11 1)">刺杀放血</text>
<text id="C8" class="c" x="345.08" y="267.62" font-size="14" font-weight="500" fill="#1c1c1c" letter-spacing="1.85" transform="scale(1.11 1)">清洗猪身</text>
<text id="C9" class="c" x="416.6" y="267.62" font-size="14" font-weight="500" fill="#1c1c1c" letter-spacing="1.58" transform="scale(1.11 1)">头部检验</text>
<text id="C10" class="c" x="492.64" y="267.62" font-size="14" font-weight="500" fill="#1c1c1c" letter-spacing="1.85" transform="scale(1.11 1)">落猪浸烫</text>
<text id="C11" class="c" x="599.42" y="267.62" font-size="14" font-weight="500" fill="#1c1c1c" letter-spacing="1.1" transform="scale(1.11 1)">刮毛</text>
<text id="C12" class="c" x="660.09" y="267.62" font-size="14" font-weight="500" fill="#1c1c1c" letter-spacing="1.83" transform="scale(1.11 1)">刮毛修整提升</text>
<text id="C13" class="c" x="185.5" y="325.36" font-size="13.5" font-weight="500" fill="#1c1c1c" letter-spacing="0.42" transform="scale(1.15 1)">内脏同步检验及清洗</text>
<text id="C14" class="c" x="763.26" y="322.72" font-size="14" font-weight="500" fill="#1c1c1c" letter-spacing="1.52" transform="scale(1.11 1)">入分割肉</text>
<text id="C15" class="c" x="100.94" y="562.36" font-size="13.5" font-weight="500" fill="#1c1c1c" letter-spacing="0.58" transform="scale(1.15 1)">开膛取内脏及胴体检验</text>
<text id="C16" class="c" x="344.95" y="562.36" font-size="13.5" font-weight="500" fill="#1c1c1c" letter-spacing="1.16" transform="scale(1.15 1)">割头蹄</text>
<text id="C17" class="c" x="480.38" y="562.36" font-size="13.5" font-weight="500" fill="#1c1c1c" letter-spacing="-0.98" transform="scale(1.15 1)">劈半</text>
<text id="C18" class="c" x="583.07" y="562.36" font-size="13.5" font-weight="500" fill="#1c1c1c" letter-spacing="0.29" transform="scale(1.15 1)">冲淋复检</text>
<text id="C19" class="c" x="692.15" y="562.36" font-size="13.5" font-weight="500" fill="#1c1c1c" letter-spacing="0.28" transform="scale(1.15 1)">过磅</text>
<text id="C20" class="c" x="773.21" y="562.36" font-size="13.5" font-weight="500" fill="#1c1c1c" letter-spacing="-0.49" transform="scale(1.15 1)">入库</text>
</g>
</svg>
</body></html>
